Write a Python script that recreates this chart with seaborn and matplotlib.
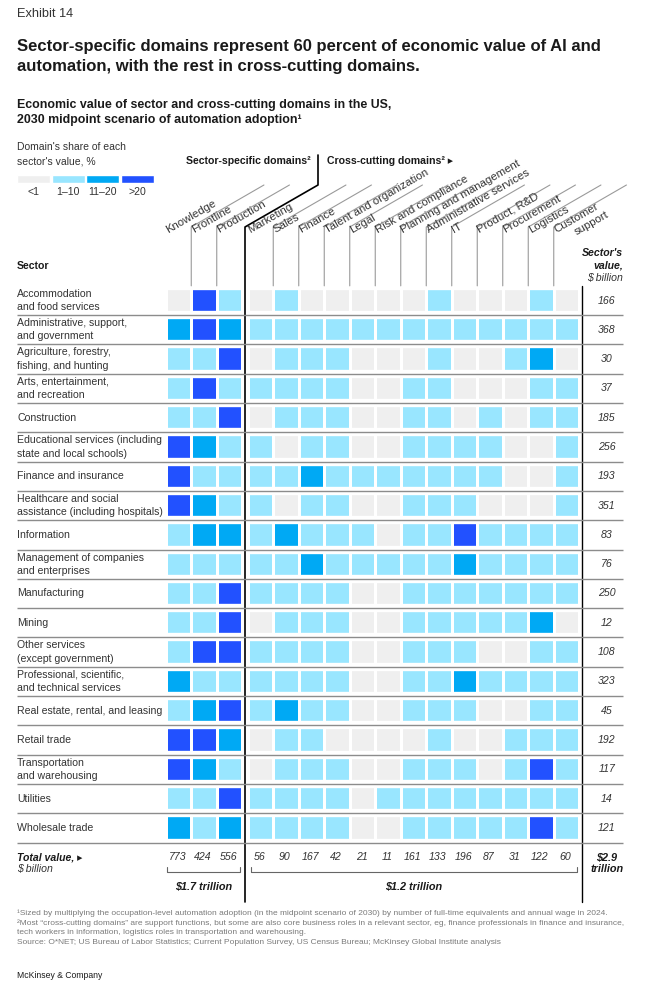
import matplotlib
matplotlib.use("Agg")
import matplotlib.pyplot as plt
import pandas as pd
import seaborn as sns
from matplotlib.colors import ListedColormap

# ---- data -----------------------------------------------------------------
sectors = [
    "Accommodation\nand food services",
    "Administrative, support,\nand government",
    "Agriculture, forestry,\nfishing, and hunting",
    "Arts, entertainment,\nand recreation",
    "Construction",
    "Educational services (including\nstate and local schools)",
    "Finance and insurance",
    "Healthcare and social\nassistance (including hospitals)",
    "Information",
    "Management of companies\nand enterprises",
    "Manufacturing",
    "Mining",
    "Other services\n(except government)",
    "Professional, scientific,\nand technical services",
    "Real estate, rental, and leasing",
    "Retail trade",
    "Transportation\nand warehousing",
    "Utilities",
    "Wholesale trade",
]
sector_domains = ["Knowledge", "Frontline", "Production"]
cross_domains = [
    "Marketing", "Sales", "Finance", "Talent and organization", "Legal",
    "Risk and compliance", "Planning and management", "Administrative services",
    "IT", "Product, R&D", "Procurement", "Logistics", "Customer\nsupport",
]
# share bins: 0 = <1, 1 = 1-10, 2 = 11-20, 3 = >20
sector_share = [
    [0, 3, 1], [2, 3, 2], [1, 1, 3], [1, 3, 1], [1, 1, 3], [3, 2, 1], [3, 1, 1],
    [3, 2, 1], [1, 2, 2], [1, 1, 1], [1, 1, 3], [1, 1, 3], [1, 3, 3], [2, 1, 1],
    [1, 2, 3], [3, 3, 2], [3, 2, 1], [1, 1, 3], [2, 1, 2],
]
cross_share = [
    [0, 1, 0, 0, 0, 0, 0, 1, 0, 0, 0, 1, 0],
    [1, 1, 1, 1, 1, 1, 1, 1, 1, 1, 1, 1, 1],
    [0, 1, 1, 1, 0, 0, 0, 1, 0, 0, 1, 2, 0],
    [1, 1, 1, 1, 0, 0, 1, 1, 0, 0, 0, 1, 1],
    [0, 1, 1, 1, 0, 0, 1, 1, 0, 1, 0, 1, 1],
    [1, 0, 1, 1, 0, 0, 1, 1, 1, 1, 0, 0, 1],
    [1, 1, 2, 1, 1, 1, 1, 1, 1, 1, 0, 0, 1],
    [1, 0, 1, 1, 0, 0, 1, 1, 1, 0, 0, 0, 1],
    [1, 2, 1, 1, 1, 0, 1, 1, 3, 1, 1, 1, 1],
    [1, 1, 2, 1, 1, 1, 1, 1, 2, 1, 1, 1, 1],
    [1, 1, 1, 1, 0, 0, 1, 1, 1, 1, 1, 1, 1],
    [0, 1, 1, 1, 0, 0, 1, 1, 1, 1, 1, 2, 0],
    [1, 1, 1, 1, 0, 0, 1, 1, 1, 0, 0, 1, 1],
    [1, 1, 1, 1, 0, 0, 1, 1, 2, 1, 1, 1, 1],
    [1, 2, 1, 1, 0, 0, 1, 1, 1, 0, 0, 1, 1],
    [0, 1, 1, 0, 0, 0, 0, 1, 0, 0, 1, 1, 1],
    [0, 1, 1, 1, 0, 0, 1, 1, 1, 0, 1, 3, 1],
    [1, 1, 1, 1, 0, 1, 1, 1, 1, 1, 1, 1, 1],
    [1, 1, 1, 1, 0, 0, 1, 1, 1, 1, 1, 3, 1],
]
sector_value = [166, 368, 30, 37, 185, 256, 193, 351, 83, 76, 250, 12, 108,
                323, 45, 192, 117, 14, 121]
total_sector = [773, 424, 556]
total_cross = [56, 90, 167, 42, 21, 11, 161, 133, 196, 87, 31, 122, 60]
share_bins = ["<1", "1–10", "11–20", ">20"]
share_colors = ["#efefef", "#99e6ff", "#00a9f4", "#2251ff"]

footnotes = [
    "¹Sized by multiplying the occupation-level automation adoption (in the midpoint scenario of 2030) by number of full-time equivalents and annual wage in 2024.",
    "²Most “cross-cutting domains” are support functions, but some are also core business roles in a relevant sector, eg, finance professionals in finance and insurance,",
    "tech workers in information, logistics roles in transportation and warehousing.",
    "Source: O*NET; US Bureau of Labor Statistics; Current Population Survey, US Census Bureau; McKinsey Global Institute analysis",
]

# ---- style ----------------------------------------------------------------
sns.set_style("white")
plt.rcParams["font.family"] = ["Liberation Sans", "DejaVu Sans"]
INK = "#1a1a1a"
BODY = "#333333"

W, H = 652, 986
fig = plt.figure(figsize=(W / 100, H / 100), dpi=100)


def px_axes(x0, y0, x1, y1):
    return fig.add_axes([x0 / W, 1 - y1 / H, (x1 - x0) / W, (y1 - y0) / H])


PITCH = 25.5
ROW = 29.3
TOP = 285.85
L0, R0 = 165.75, 247.75
n = len(sectors)
bottom = TOP + n * ROW

cmap = ListedColormap(share_colors)
df_s = pd.DataFrame(sector_share, index=sectors, columns=sector_domains)
df_c = pd.DataFrame(cross_share, index=sectors, columns=cross_domains)
for df, x0 in [(df_s, L0), (df_c, R0)]:
    ax = px_axes(x0, TOP, x0 + PITCH * df.shape[1], bottom)
    sns.heatmap(df, ax=ax, cmap=cmap, vmin=-0.5, vmax=3.5, cbar=False,
                linewidths=1.8, linecolor="white",
                xticklabels=False, yticklabels=False)
    for i in range(n + 1):
        ax.axhline(i, color="white", lw=6)

# overlay in pixel coordinates
ov = fig.add_axes([0, 0, 1, 1])
ov.set_xlim(0, W)
ov.set_ylim(H, 0)
ov.axis("off")
ov.patch.set_alpha(0)

# titles
ov.text(17, 14, "Exhibit 14", fontsize=9.2, color=BODY, va="center")
ov.text(17, 46, "Sector-specific domains represent 60 percent of economic value of AI and",
        fontsize=12, fontweight="bold", color=INK, va="center")
ov.text(17, 67, "automation, with the rest in cross-cutting domains.",
        fontsize=12, fontweight="bold", color=INK, va="center")
ov.text(17, 105, "Economic value of sector and cross-cutting domains in the US,",
        fontsize=8.9, fontweight="bold", color=INK, va="center")
ov.text(17, 120, "2030 midpoint scenario of automation adoption¹",
        fontsize=8.9, fontweight="bold", color=INK, va="center")

# legend
ov.text(17, 147, "Domain's share of each", fontsize=7.5, color=BODY, va="center")
ov.text(17, 161, "sector's value, %", fontsize=7.5, color=BODY, va="center")
leg_left = [17 + 34.5 * k for k in range(len(share_bins))]
ov.barh([179] * 4, [33] * 4, left=leg_left, height=8, color=share_colors)
for xl, lab in zip(leg_left, share_bins):
    ov.text(xl + 16.5, 192, lab, fontsize=7.6, color=BODY, ha="center", va="center")

# group headers
ov.text(311, 161, "Sector-specific domains²", fontsize=7.6, fontweight="bold",
        color=INK, ha="right", va="center")
ov.text(327, 161, "Cross-cutting domains² ▸", fontsize=7.6, fontweight="bold",
        color=INK, ha="left", va="center")

# column header lines and labels
bounds = [L0 + PITCH * k for k in (1, 2)] + [R0 + PITCH * k for k in range(1, 13)]
for xb in bounds:
    ov.plot([xb, xb, xb + 72.7], [TOP, 227, 185], color="#9a9a9a", lw=0.8)
ov.plot([318, 318, 245, 245], [155, 185, 227, 902], color="black", lw=1.2)
ov.plot([582, 582], [TOP, 902], color="black", lw=1.0)

col_left = [L0 + PITCH * k for k in range(3)] + [R0 + PITCH * k for k in range(13)]
for name, xl in zip(sector_domains + cross_domains, col_left):
    for j, line in enumerate(name.split("\n")):
        ov.text(xl + 2.5 + 20.7 * j, 233 + 1.9 * j, line, rotation=30,
                rotation_mode="anchor", ha="left", va="baseline",
                fontsize=8.2, color=BODY)

ov.text(17, 266, "Sector", fontsize=7.6, fontweight="bold", color=INK, va="center")
ov.text(623, 253, "Sector's", fontsize=7.6, fontweight="bold", style="italic",
        color=INK, ha="right", va="center")
ov.text(623, 266, "value,", fontsize=7.6, fontweight="bold", style="italic",
        color=INK, ha="right", va="center")
ov.text(623, 278, "$ billion", fontsize=7.6, style="italic", color=BODY,
        ha="right", va="center")

# rows
for i, (lab, val) in enumerate(zip(sectors, sector_value)):
    yc = TOP + (i + 0.5) * ROW
    ov.text(17, yc, lab, fontsize=7.6, color=BODY, va="center", linespacing=1.42)
    ov.text(607, yc, str(val), fontsize=7.6, style="italic", color=BODY,
            ha="center", va="center")
ov.hlines([TOP + (i + 1) * ROW for i in range(n)], 17, 623, color="#8c8c8c", lw=1.0)

# totals
ov.text(17, 857, "Total value, ▸", fontsize=7.6, fontweight="bold", style="italic",
        color=INK, va="center")
ov.text(17, 869, "$ billion", fontsize=7.6, style="italic", color=BODY, va="center")
for xl, tot in zip(col_left, total_sector + total_cross):
    ov.text(xl + PITCH / 2 - 1, 857, str(tot), fontsize=7.6, style="italic",
            color=BODY, ha="center", va="center")
ov.text(607, 857, "$2.9", fontsize=7.8, fontweight="bold", style="italic",
        color=INK, ha="center", va="center")
ov.text(607, 869, "trillion", fontsize=7.8, fontweight="bold", style="italic",
        color=INK, ha="center", va="center")
for x0, x1, lab in [(167, 240, "$1.7 trillion"), (251, 577, "$1.2 trillion")]:
    ov.plot([x0, x0, x1, x1], [867, 872, 872, 867], color="#666666", lw=0.8)
    ov.text((x0 + x1) / 2, 886, lab, fontsize=7.8, fontweight="bold",
            style="italic", color=INK, ha="center", va="center")

# footnotes
for k, note in enumerate(footnotes):
    ov.text(17, 913 + 9.8 * k, note, fontsize=6.05, color="#7a7a7a", va="center")
ov.text(17, 975, "McKinsey & Company", fontsize=6.2, color=INK, va="center")

fig.savefig("out.png", dpi=100)
plt.close(fig)
